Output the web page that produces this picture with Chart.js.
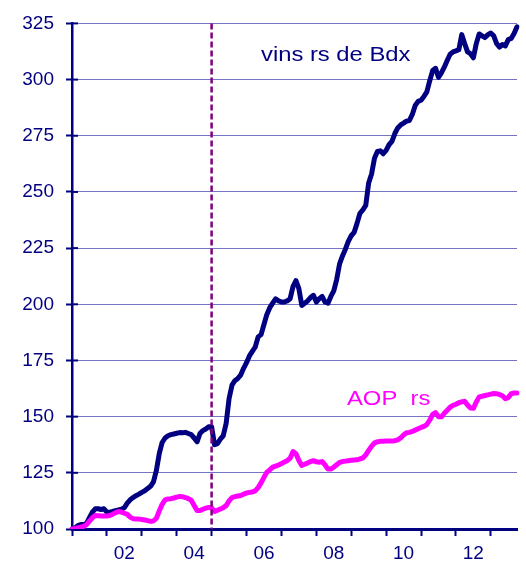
<!DOCTYPE html>
<html>
<head>
<meta charset="utf-8">
<script src="https://cdn.jsdelivr.net/npm/chart.js@4.4.1/dist/chart.umd.min.js"></script>
<style>
body { margin: 0; background: #fff; }
</style>
</head>
<body>
<canvas id="canvas1" width="526" height="568"></canvas>
<script>
"use strict";

// monthly index, jan 2001 = 100
let startYear = 2001;
let monthCount = 154;
let yearLabels = ["02", "04", "06", "08", "10", "12"];
let yMin = 100;
let yMax = 325;
let yStep = 25;
let markerMonth = 48; // jan 2005, dashed line

let labelBdx = "vins rs de Bdx";
let labelAop = "AOP  rs";

let rougesBdx = [
    100, 100.5, 101.5, 102, 102, 102.5, 105, 107.5, 109, 109, 108.7, 109,
    107.5, 107.5, 107.8, 108.2, 108.5, 108.8, 109.5, 111.5, 113, 114, 114.8, 115.5,
    116.3, 117, 118, 119, 121, 126, 133.5, 138.5, 140.5, 141.5, 142, 142.3,
    142.6, 142.9, 142.8, 143, 142.5, 142, 140.5, 138.8, 142.5, 143.8, 144.5, 145.5,
    145.5, 137.5, 138, 140, 141.5, 147, 158, 164, 166, 167, 168.5, 171.5,
    174, 177, 179, 181, 185.5, 186.5, 191, 195.5, 198.5, 200.5, 202.4, 201.5,
    201, 201, 201.5, 202.5, 208, 210.5, 207, 199.5, 200.5, 201.5, 203, 204,
    201, 202.5, 203.5, 201, 200.5, 203.5, 206, 211, 218, 221.5, 224.5, 228,
    230.5, 232, 236, 240.5, 242, 244, 254, 258, 265, 268, 268.3, 267,
    268.5, 271, 272.5, 276, 278.5, 279.8, 280.6, 281.5, 281.8, 284.5, 288.5, 290.3,
    290.8, 292.5, 294.5, 299.5, 304, 305, 301, 303, 305.5, 308.5, 311.3, 312.3,
    312.8, 313.3, 320, 316, 312.3, 311.5, 309.7, 316, 320.3, 319.5, 318.7, 320,
    320.7, 319.5, 316, 314.5, 315.6, 315, 317.8, 318.3, 320.5, 323.5
];

let aopRouges = [
    100, 100.2, 100.5, 100.8, 101.2, 102, 103.5, 105, 106, 105.9, 105.8, 105.8,
    105.8, 106, 106.6, 107.3, 107.8, 107.5, 107, 106.5, 105.3, 104.6, 104.4, 104.4,
    104.2, 104, 103.7, 103.4, 103.6, 104.7, 108, 111, 113, 113.4, 113.5, 113.8,
    114.2, 114.5, 114.4, 114, 113.5, 112.8, 110.5, 108.2, 108.2, 108.8, 109.3, 109.6,
    109.5, 107.8, 108.3, 108.9, 109.5, 110.4, 112.5, 114, 114.4, 114.7, 114.9, 115.5,
    116, 116.3, 116.5, 117, 118.4, 120.5, 123, 125.3, 126.3, 127.5, 128, 128.5,
    129.1, 129.8, 130.4, 131.5, 134.5, 133.5, 130.5, 128.3, 128.8, 129.4, 130, 130.4,
    129.9, 129.7, 130, 128.5, 126.7, 126.7, 127.5, 128.6, 129.6, 130, 130.2, 130.4,
    130.6, 130.7, 130.8, 131.2, 131.6, 133, 135, 136.8, 138.3, 138.8, 139, 139.1,
    139.2, 139.2, 139.2, 139.3, 139.7, 140.5, 141.8, 142.8, 143, 143.4, 144, 144.6,
    145.2, 145.7, 146.5, 148.5, 151, 151.8, 150, 149.9, 151.5, 152.8, 154.2, 155,
    155.5, 156.2, 156.6, 156.8, 155.2, 153.8, 153.7, 156.5, 158.8, 159.1, 159.4, 159.7,
    160, 160.3, 160.2, 159.8, 159.3, 158, 158.5, 160.2, 160.5, 160.5
];

// colours
let navy = "#000080";
let pink = "#ff00ff";
let gridCol = "#7474c2";
let markerCol = "#800080";
let fontFam = "'Liberation Sans', Arial, sans-serif";

// month labels
let months = [];
for (let i = 0; i < monthCount; i++) {
    let mm = (i % 12) + 1;
    months.push((startYear + Math.floor(i / 12)) + "-" + (mm < 10 ? "0" + mm : mm));
}

// dashed line, inner ticks, texts
let extras = {
    id: "extras",
    afterDatasetsDraw(chart) {
        let ctx = chart.ctx;
        let xs = chart.scales.x;
        let ys = chart.scales.y;
        let area = chart.chartArea;

        ctx.save();
        let px = xs.getPixelForValue(markerMonth);
        ctx.strokeStyle = markerCol;
        ctx.lineWidth = 2.5;
        ctx.setLineDash([6, 3]);
        ctx.beginPath();
        ctx.moveTo(px, area.top);
        ctx.lineTo(px, area.bottom);
        ctx.stroke();
        ctx.restore();

        ctx.save();
        ctx.strokeStyle = navy;
        ctx.lineWidth = 2;
        for (let v = yMin + yStep; v <= yMax; v += yStep) {
            let py = ys.getPixelForValue(v);
            ctx.beginPath();
            ctx.moveTo(area.left, py);
            ctx.lineTo(area.left + 6, py);
            ctx.stroke();
        }
        ctx.restore();

        // series labels (text looks stretched in the original)
        ctx.save();
        ctx.font = "20px " + fontFam;
        ctx.textBaseline = "alphabetic";
        ctx.fillStyle = navy;
        ctx.translate(261, 61);
        ctx.scale(1.19, 1);
        ctx.fillText(labelBdx, 0, 0);
        ctx.restore();

        ctx.save();
        ctx.font = "20px " + fontFam;
        ctx.textBaseline = "alphabetic";
        ctx.fillStyle = pink;
        ctx.translate(347, 405);
        ctx.scale(1.19, 1);
        ctx.fillText(labelAop, 0, 0);
        ctx.restore();
    }
};

let canvas1 = document.querySelector("#canvas1");

let opts = {
    type: "line",
    data: {
        labels: months,
        datasets: [
            { label: labelAop, data: aopRouges, borderColor: pink, borderWidth: 5 },
            { label: labelBdx, data: rougesBdx, borderColor: navy, borderWidth: 5 },
        ],
    },
    options: {
        responsive: false,
        animation: false,
        layout: { padding: { top: 19, right: 9, left: 0, bottom: 0 } },
        elements: {
            point: { radius: 0 },
            line: { tension: 0, fill: false, borderJoinStyle: "round", borderCapStyle: "round" },
        },
        plugins: {
            legend: { display: false },
            tooltip: { enabled: false },
        },
        scales: {
            x: {
                offset: false,
                afterFit: (s) => { s.height = 39; },
                border: { color: navy, width: 3 },
                grid: {
                    drawOnChartArea: false,
                    tickLength: 7,
                    tickWidth: 2,
                    tickColor: (c) => (c.index % 12 === 0 ? navy : "transparent"),
                },
                ticks: {
                    autoSkip: false,
                    maxRotation: 0,
                    minRotation: 0,
                    padding: 6,
                    color: navy,
                    font: { family: fontFam, size: 19 },
                    callback: function (value, index) {
                        if (index % 12 !== 6) return "";
                        let yy = String(startYear + Math.floor(index / 12)).slice(2);
                        return yearLabels.includes(yy) ? yy : "";
                    },
                },
            },
            y: {
                min: yMin,
                max: yMax,
                afterFit: (s) => { s.width = 72; },
                border: { color: navy, width: 2.5 },
                grid: {
                    color: gridCol,
                    lineWidth: 1,
                    tickLength: 6,
                    tickWidth: 2,
                    tickColor: navy,
                },
                ticks: {
                    stepSize: yStep,
                    padding: 12,
                    color: navy,
                    font: { family: fontFam, size: 19 },
                },
            },
        },
    },
    plugins: [extras],
};

let chart1 = new Chart(canvas1, opts);
</script>
</body>
</html>
